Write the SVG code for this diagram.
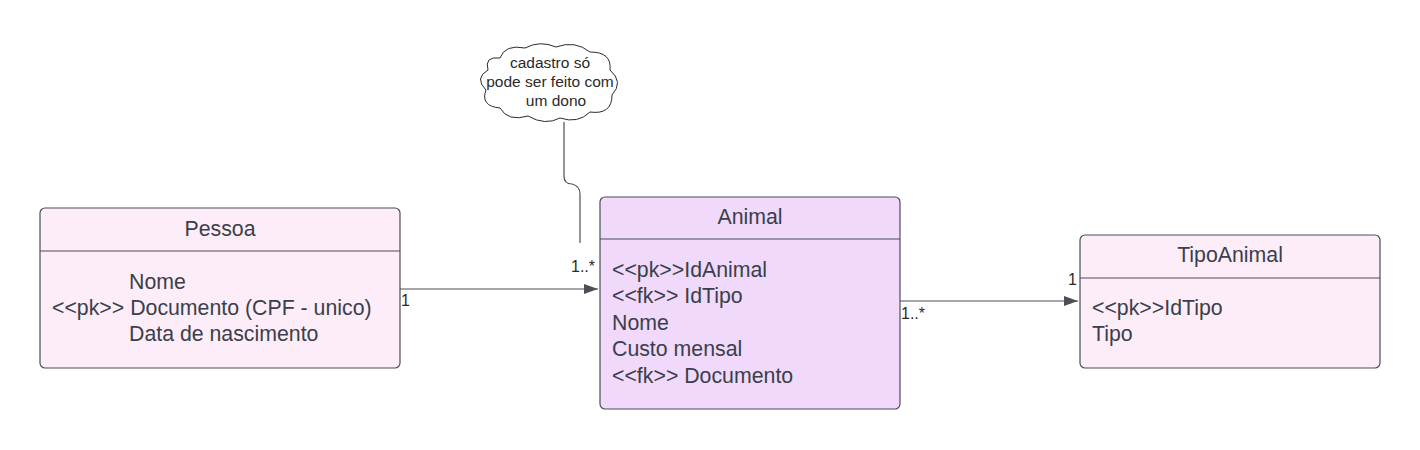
<svg xmlns="http://www.w3.org/2000/svg" width="1420" height="450" viewBox="0 0 1420 450">
<defs>
<style>
.box{stroke:#4b4f58;stroke-width:1.2}
.div{stroke:#4b4f58;stroke-width:1.2}
.t{font-family:"Liberation Sans",Arial,sans-serif;font-size:21.3px;fill:#3a3f4a}
.tc{text-anchor:middle}
.lbl{font-family:"Liberation Sans",Arial,sans-serif;font-size:16px;fill:#2a2a2a}
.note{font-family:"Liberation Sans",Arial,sans-serif;font-size:15.5px;fill:#2a2a2a;text-anchor:middle}
.conn{fill:none;stroke:#4b4f58;stroke-width:1.2}
</style>
<marker id="arr" markerWidth="14" markerHeight="10" refX="14" refY="5" orient="auto" markerUnits="userSpaceOnUse">
<path d="M0,0 L14,5 L0,10 Z" fill="#4b4f58"/>
</marker>
</defs>
<rect width="1420" height="450" fill="#ffffff"/>

<g id="connectors">
<path class="conn" d="M400,289 H598" marker-end="url(#arr)"/>
<path class="conn" d="M900,301 H1078" marker-end="url(#arr)"/>
<path class="conn" d="M564,122 V176 Q564,184 572,184 Q580,186 580,194 V243"/>
<text class="lbl" x="401" y="306">1</text>
<text class="lbl" x="571" y="272">1..*</text>
<text class="lbl" x="901" y="319">1..*</text>
<text class="lbl" x="1068" y="285">1</text>
</g>

<g id="note">
<path d="M500,58 Q505,44 525,48 Q540,40 556,47 Q575,40 590,52 Q612,52 610,70 Q624,82 612,95 Q612,115 590,112 Q578,124 560,118 Q545,126 528,116 Q508,122 500,108 Q480,106 486,90 Q474,78 488,70 Q484,56 500,58 Z" fill="#ffffff" stroke="#2a2a2a" stroke-width="1"/>
<text class="note" x="550" y="68">cadastro só</text>
<text class="note" x="550" y="87">pode ser feito com</text>
<text class="note" x="556" y="106">um dono</text>
</g>

<g id="pessoa">
<rect class="box" x="40" y="208" width="360" height="160" rx="5" fill="#fdedf9"/>
<line class="div" x1="40" y1="251" x2="400" y2="251"/>
<text class="t tc" x="220" y="236">Pessoa</text>
<text class="t" x="129" y="289">Nome</text>
<text class="t" x="52" y="315">&lt;&lt;pk&gt;&gt; Documento (CPF - unico)</text>
<text class="t" x="129" y="341">Data de nascimento</text>
</g>

<g id="animal">
<rect class="box" x="600" y="197" width="300" height="212" rx="5" fill="#f1d9fb"/>
<line class="div" x1="600" y1="239" x2="900" y2="239"/>
<text class="t tc" x="750" y="224">Animal</text>
<text class="t" x="612" y="277">&lt;&lt;pk&gt;&gt;IdAnimal</text>
<text class="t" x="612" y="303">&lt;&lt;fk&gt;&gt; IdTipo</text>
<text class="t" x="612" y="330">Nome</text>
<text class="t" x="612" y="356">Custo mensal</text>
<text class="t" x="612" y="383">&lt;&lt;fk&gt;&gt; Documento</text>
</g>

<g id="tipoanimal">
<rect class="box" x="1080" y="235" width="300" height="133" rx="5" fill="#fdedf9"/>
<line class="div" x1="1080" y1="278" x2="1380" y2="278"/>
<text class="t tc" x="1230" y="262">TipoAnimal</text>
<text class="t" x="1092" y="315">&lt;&lt;pk&gt;&gt;IdTipo</text>
<text class="t" x="1092" y="341">Tipo</text>
</g>
</svg>
